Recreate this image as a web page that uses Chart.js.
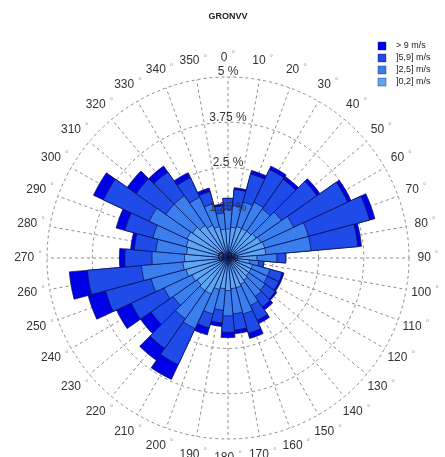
<!DOCTYPE html>
<html>
<head>
<meta charset="utf-8">
<script src="https://cdn.jsdelivr.net/npm/chart.js@4/dist/chart.umd.min.js"></script>
<style>
html,body{margin:0;padding:0;background:#fff;}
#wrap{width:445px;height:457px;position:relative;}
</style>
</head>
<body>
<div id="wrap"><canvas id="c"></canvas></div>
<script>
// ---- data (percent of time, per 10° direction sector) ----
const directions = [0,10,20,30,40,50,60,70,80,90,100,110,120,130,140,150,160,170,
                    180,190,200,210,220,230,240,250,260,270,280,290,300,310,320,330,340,350];
const speedClasses = ['> 9 m/s', ']5,9] m/s', ']2,5] m/s', ']0,2] m/s'];
const speed0to2 = [0.8,0.85,0.9,0.9,0.9,0.95,1.0,1.05,1.05,0.8,0.6,0.7,0.7,0.7,0.75,0.8,0.85,0.85,
                   0.9,0.85,0.9,1.1,1.1,1.05,1.1,1.2,1.25,1.2,1.15,1.2,1.25,1.2,1.1,1.0,0.9,0.8];
const speed2to5 = [0.55,0.6,0.7,0.8,0.75,0.85,1.0,1.25,1.25,0.55,0.25,0.5,0.5,0.55,0.55,0.65,0.75,0.7,
                   0.7,0.6,0.7,1.05,0.95,0.8,0.85,1.0,1.15,0.9,0.85,0.95,1.15,0.9,1.0,0.85,0.65,0.45];
const speed5to9 = [0.3,0.45,0.8,1.0,1.0,1.2,1.65,1.75,1.3,0.25,0.15,0.35,0.35,0.35,0.35,0.45,0.55,0.45,
                   0.45,0.35,0.4,1.1,1.0,0.75,1.0,1.3,1.5,0.75,0.6,0.8,1.4,1.0,0.8,0.6,0.35,0.2];
const speedAbove9 = [0.0,0.05,0.1,0.1,0.1,0.1,0.1,0.15,0.1,0.0,0.0,0.05,0.05,0.05,0.1,0.1,0.15,0.1,
                     0.15,0.1,0.2,0.45,0.4,0.35,0.45,0.5,0.5,0.15,0.1,0.25,0.3,0.3,0.2,0.15,0.1,0.05];
const radialTicks = [0, 1.25, 2.5, 3.75, 5];
const chartTitle = 'GRONVV';

// ---- styling ----
const classColors = ['#0000e6', '#1f4be8', '#3b7fee', '#5ea6f2'];
const edgeColor = 'rgba(8,16,80,0.9)';

// stacked rose: cumulative radii (outer classes drawn underneath)
const cum = [];
let run = directions.map(() => 0);
[speed0to2, speed2to5, speed5to9, speedAbove9].forEach(arr => {
  run = run.map((v, i) => +(v + arr[i]).toFixed(3));
  cum.push(run.slice());
});
const datasets = [
  {label: speedClasses[3], data: cum[0], backgroundColor: classColors[3]},
  {label: speedClasses[2], data: cum[1], backgroundColor: classColors[2]},
  {label: speedClasses[1], data: cum[2], backgroundColor: classColors[1]},
  {label: speedClasses[0], data: cum[3], backgroundColor: classColors[0]}
].map(d => Object.assign(d, {borderColor: edgeColor, borderWidth: 0.8}));

const roseDecor = {
  id: 'roseDecor',
  beforeDatasetsDraw(chart) {
    const s = chart.scales.r, ctx = chart.ctx;
    const R = s.drawingArea, cx = s.xCenter, cy = s.yCenter;
    ctx.save();
    ctx.strokeStyle = '#8c8c8c';
    ctx.lineWidth = 1;
    ctx.setLineDash([3, 3]);
    directions.forEach(d => {
      const a = d * Math.PI / 180;
      ctx.beginPath();
      ctx.moveTo(cx, cy);
      ctx.lineTo(cx + R * Math.sin(a), cy - R * Math.cos(a));
      ctx.stroke();
    });
    ctx.setLineDash([]);
    ctx.textBaseline = 'middle';
    ctx.textAlign = 'left';
    directions.forEach(d => {
      const a = d * Math.PI / 180;
      const dist = R + 19;
      const px = cx + dist * Math.sin(a), py = cy - dist * Math.cos(a);
      const num = String(d);
      ctx.font = '12px Arial, "Liberation Sans", sans-serif';
      const w1 = ctx.measureText(num).width;
      ctx.font = '9px Arial, "Liberation Sans", sans-serif';
      const w2 = ctx.measureText('°').width;
      const total = w1 + 4 + w2;
      const x0 = px - total / 2;
      ctx.font = '12px Arial, "Liberation Sans", sans-serif';
      ctx.fillStyle = '#333';
      ctx.fillText(num, x0, py);
      ctx.font = '9px Arial, "Liberation Sans", sans-serif';
      ctx.fillStyle = '#a0a0a0';
      ctx.fillText('°', x0 + w1 + 4, py - 3);
    });
    ctx.restore();
  },
  afterDatasetsDraw(chart) {
    const s = chart.scales.r, ctx = chart.ctx;
    const cx = s.xCenter, cy = s.yCenter;
    ctx.save();
    ctx.textAlign = 'center';
    ctx.textBaseline = 'middle';
    ctx.font = '12px Arial, "Liberation Sans", sans-serif';
    radialTicks.forEach(v => {
      const d = s.getDistanceFromCenterForValue(v);
      ctx.fillStyle = v === 0 ? '#111' : '#333';
      ctx.fillText(v + ' %', cx, cy - d - (v === 0 ? 0 : 5));
    });
    ctx.textAlign = 'left';
    ctx.font = '9px Arial, "Liberation Sans", sans-serif';
    speedClasses.forEach((lab, i) => {
      const y = 46 + i * 12;
      ctx.fillStyle = classColors[i];
      ctx.fillRect(378, y - 4, 8, 8);
      ctx.strokeStyle = 'rgba(20,20,80,0.6)';
      ctx.lineWidth = 0.6;
      ctx.strokeRect(378, y - 4, 8, 8);
      ctx.fillStyle = '#222';
      ctx.fillText(lab, 396, y);
    });
    ctx.restore();
  }
};

new Chart(document.getElementById('c'), {
  type: 'polarArea',
  data: {labels: directions.map(d => d + ' °'), datasets},
  options: {
    responsive: true,
    maintainAspectRatio: false,
    animation: false,
    devicePixelRatio: 1,
    layout: {padding: {left: 47, right: 36, bottom: 18, top: 0}},
    scales: {
      r: {
        min: 0, max: 5,
        startAngle: -5,
        ticks: {display: false, stepSize: 1.25},
        grid: {circular: true, color: '#8c8c8c', lineWidth: 1},
        border: {dash: [3, 3]},
        angleLines: {display: false},
        pointLabels: {display: false}
      }
    },
    plugins: {
      legend: {display: false},
      tooltip: {enabled: false},
      title: {
        display: true, text: chartTitle, color: '#222',
        font: {family: 'Arial, "Liberation Sans", sans-serif', size: 9, weight: 'bold'},
        padding: {top: 11, bottom: 55.2}
      }
    }
  },
  plugins: [roseDecor]
});
</script>
</body>
</html>
